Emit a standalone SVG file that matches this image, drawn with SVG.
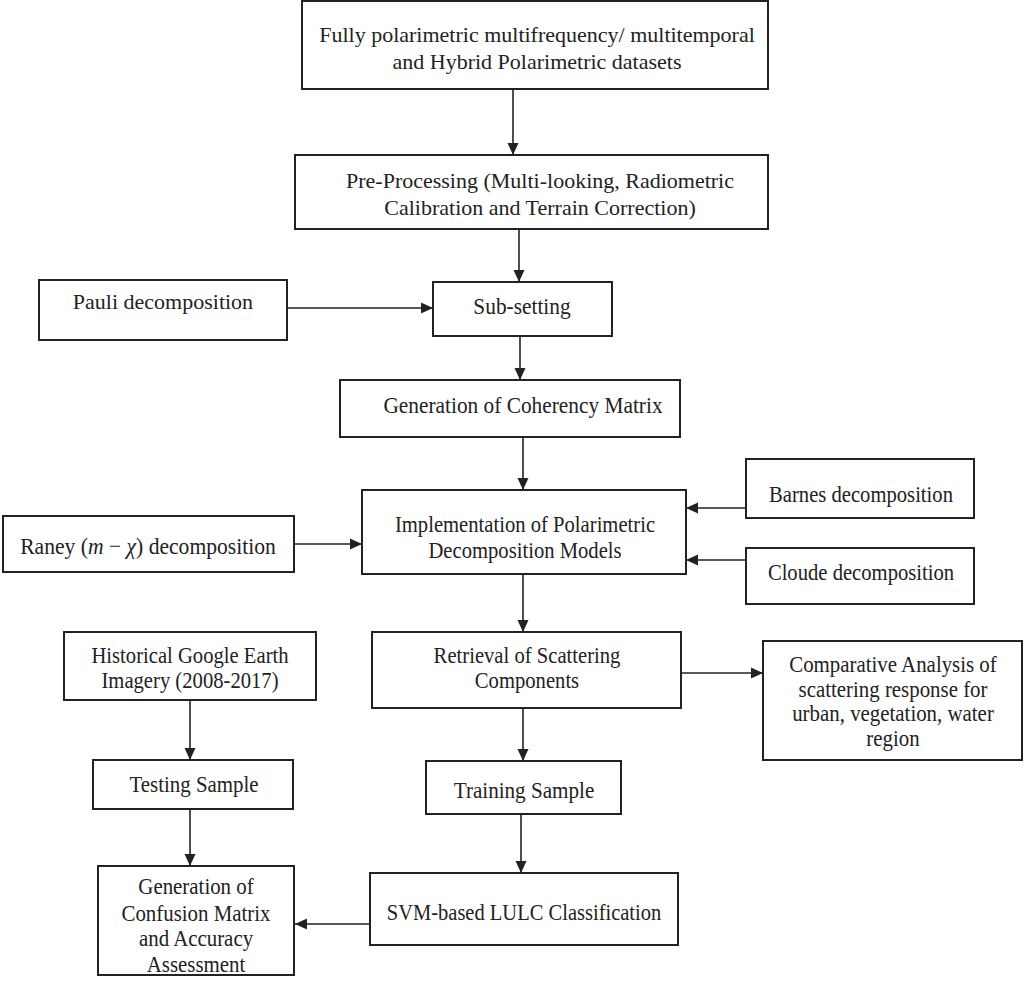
<svg xmlns="http://www.w3.org/2000/svg" width="1024" height="984" viewBox="0 0 1024 984">
<style>
.box{fill:#fff;stroke:#222;stroke-width:2}
.t{font-family:"Liberation Serif","Times New Roman",serif;font-size:22px;fill:#222;text-anchor:middle}
.tc{font-family:"Liberation Serif","Times New Roman",serif;font-size:24px;fill:#222;text-anchor:middle}
.c{stroke:#222;stroke-width:1.6;fill:none;marker-end:url(#ah)}
</style>
<defs>
<marker id="ah" viewBox="0 0 12 12" refX="12" refY="6" markerWidth="12" markerHeight="12" markerUnits="userSpaceOnUse" orient="auto">
<path d="M0,0.5 L12,6 L0,11.5 Z" fill="#222"/>
</marker>
</defs>
<rect width="1024" height="984" fill="#fff"/>
<g id="connectors">
<line class="c" x1="513" y1="89" x2="513" y2="155"/>
<line class="c" x1="519" y1="229" x2="519" y2="282"/>
<line class="c" x1="287" y1="308" x2="433" y2="308"/>
<line class="c" x1="520" y1="336" x2="520" y2="380"/>
<line class="c" x1="523" y1="437" x2="523" y2="490"/>
<line class="c" x1="746" y1="508" x2="686" y2="508"/>
<line class="c" x1="746" y1="560" x2="686" y2="560"/>
<line class="c" x1="294" y1="544" x2="362" y2="544"/>
<line class="c" x1="523" y1="574" x2="523" y2="632"/>
<line class="c" x1="681" y1="673" x2="763" y2="673"/>
<line class="c" x1="190" y1="700" x2="190" y2="760"/>
<line class="c" x1="190" y1="809" x2="190" y2="866"/>
<line class="c" x1="523" y1="708" x2="523" y2="761"/>
<line class="c" x1="521" y1="814" x2="521" y2="873"/>
<line class="c" x1="370" y1="924" x2="295" y2="924"/>
</g>
<g id="n1"><rect class="box" x="302" y="1" width="466" height="88"/>
<text class="t" x="537" y="42">Fully polarimetric multifrequency/ multitemporal</text>
<text class="t" x="537" y="69">and Hybrid Polarimetric datasets</text></g>
<g id="n2"><rect class="box" x="295" y="155" width="473" height="74"/>
<text class="t" x="540" y="188" font-size="23">Pre-Processing (Multi-looking, Radiometric</text>
<text class="t" x="540" y="215" font-size="23">Calibration and Terrain Correction)</text></g>
<g id="n3"><rect class="box" x="39" y="280" width="248" height="60"/>
<text class="t" x="163" y="309" font-size="21">Pauli decomposition</text></g>
<g id="n4"><rect class="box" x="433" y="282" width="179" height="54"/>
<text class="tc" transform="translate(522,314) scale(0.89,1)" font-size="22">Sub-setting</text></g>
<g id="n5"><rect class="box" x="340" y="380" width="340" height="57"/>
<text class="tc" transform="translate(523,413) scale(0.89,1)">Generation of Coherency Matrix</text></g>
<g id="n6"><rect class="box" x="362" y="490" width="324" height="84"/>
<text class="tc" transform="translate(525,532) scale(0.86,1)">Implementation of Polarimetric</text>
<text class="tc" transform="translate(525,558) scale(0.86,1)">Decomposition Models</text></g>
<g id="n7"><rect class="box" x="746" y="459" width="228" height="59"/>
<text class="tc" transform="translate(861,502) scale(0.86,1)">Barnes decomposition</text></g>
<g id="n8"><rect class="box" x="746" y="548" width="228" height="56"/>
<text class="tc" transform="translate(861,580) scale(0.86,1)">Cloude decomposition</text></g>
<g id="n9"><rect class="box" x="3" y="516" width="291" height="56"/>
<text class="tc" transform="translate(148,554) scale(0.9,1)">Raney (<tspan font-style="italic">m</tspan> − <tspan font-style="italic">χ</tspan>) decomposition</text></g>
<g id="n10"><rect class="box" x="372" y="632" width="309" height="76"/>
<text class="tc" transform="translate(527,663) scale(0.86,1)">Retrieval of Scattering</text>
<text class="tc" transform="translate(527,688) scale(0.86,1)">Components</text></g>
<g id="n11"><rect class="box" x="763" y="641" width="259" height="119"/>
<text class="tc" transform="translate(893,672) scale(0.87,1)">Comparative Analysis of</text>
<text class="tc" transform="translate(893,697) scale(0.87,1)">scattering response for</text>
<text class="tc" transform="translate(893,721) scale(0.87,1)">urban, vegetation, water</text>
<text class="tc" transform="translate(893,746) scale(0.87,1)">region</text></g>
<g id="n12"><rect class="box" x="64" y="632" width="252" height="68"/>
<text class="tc" transform="translate(190,663) scale(0.86,1)">Historical Google Earth</text>
<text class="tc" transform="translate(190,688) scale(0.86,1)">Imagery (2008-2017)</text></g>
<g id="n13"><rect class="box" x="93" y="760" width="200" height="49"/>
<text class="tc" transform="translate(194,792) scale(0.87,1)">Testing Sample</text></g>
<g id="n14"><rect class="box" x="98" y="866" width="196" height="109"/>
<text class="tc" transform="translate(196,894) scale(0.87,1)">Generation of</text>
<text class="tc" transform="translate(196,921) scale(0.87,1)">Confusion Matrix</text>
<text class="tc" transform="translate(196,946) scale(0.87,1)">and Accuracy</text>
<text class="tc" transform="translate(196,972) scale(0.87,1)">Assessment</text></g>
<g id="n15"><rect class="box" x="426" y="761" width="195" height="53"/>
<text class="tc" transform="translate(524,798) scale(0.88,1)">Training Sample</text></g>
<g id="n16"><rect class="box" x="370" y="873" width="308" height="72"/>
<text class="tc" transform="translate(524,920) scale(0.855,1)">SVM-based LULC Classification</text></g>
</svg>
